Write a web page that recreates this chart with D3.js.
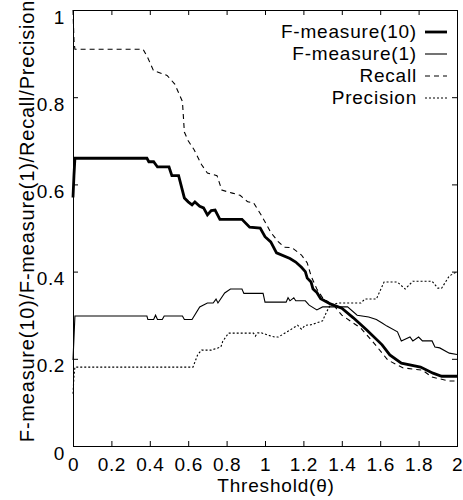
<!DOCTYPE html>
<html>
<head>
<meta charset="utf-8">
<script src="https://cdn.jsdelivr.net/npm/d3@7"></script>
<style>
  html, body { margin: 0; padding: 0; background: #fff; }
  svg text { font-family: "Liberation Sans", Arial, Helvetica, sans-serif; fill: #000; }
</style>
</head>
<body>
<svg id="chart" width="463" height="500"></svg>
<script>
// ---- data ----
const xTicks = [0, 0.2, 0.4, 0.6, 0.8, 1, 1.2, 1.4, 1.6, 1.8, 2];
const yTicks = [0, 0.2, 0.4, 0.6, 0.8, 1];
const xTickLabels = ["0", "0.2", "0.4", "0.6", "0.8", "1", "1.2", "1.4", "1.6", "1.8", "2"];
const yTickLabels = ["0", "0.2", "0.4", "0.6", "0.8", "1"];
const seriesNames = ["F-measure(10)", "F-measure(1)", "Recall", "Precision"];

const fmeasure10 = [
  [0, 0.57], [0.005, 0.62], [0.01, 0.66], [0.385, 0.66], [0.395, 0.652], [0.42, 0.652],
  [0.44, 0.64], [0.50, 0.64], [0.515, 0.62], [0.55, 0.62], [0.58, 0.569], [0.60, 0.56],
  [0.62, 0.553], [0.635, 0.56], [0.66, 0.55], [0.68, 0.546], [0.70, 0.53], [0.72, 0.54],
  [0.74, 0.541], [0.765, 0.52], [0.88, 0.52], [0.92, 0.502], [0.975, 0.50], [1.0, 0.48],
  [1.03, 0.468], [1.06, 0.443], [1.13, 0.43], [1.16, 0.422], [1.19, 0.41], [1.21, 0.40],
  [1.22, 0.385], [1.24, 0.376], [1.25, 0.36], [1.27, 0.352], [1.29, 0.338], [1.31, 0.333],
  [1.34, 0.326], [1.40, 0.316], [1.46, 0.294], [1.53, 0.266], [1.61, 0.232], [1.65, 0.209],
  [1.71, 0.19], [1.81, 0.181], [1.875, 0.167], [1.92, 0.16], [2.0, 0.16]
];
const fmeasure1 = [
  [0, 0.197], [0.01, 0.298], [0.385, 0.298], [0.39, 0.29], [0.42, 0.29], [0.43, 0.30],
  [0.44, 0.29], [0.465, 0.29], [0.475, 0.298], [0.57, 0.298], [0.58, 0.29], [0.62, 0.29],
  [0.66, 0.319], [0.70, 0.328], [0.73, 0.328], [0.745, 0.337], [0.755, 0.328], [0.79, 0.351],
  [0.82, 0.36], [0.88, 0.36], [0.89, 0.35], [0.99, 0.35], [1.0, 0.33], [1.11, 0.33],
  [1.12, 0.34], [1.13, 0.333], [1.15, 0.34], [1.16, 0.333], [1.21, 0.333], [1.23, 0.323],
  [1.27, 0.312], [1.30, 0.319], [1.43, 0.319], [1.48, 0.30], [1.54, 0.296], [1.58, 0.29],
  [1.61, 0.282], [1.635, 0.275], [1.69, 0.262], [1.71, 0.241], [1.755, 0.25], [1.77, 0.241],
  [1.80, 0.25], [1.82, 0.241], [1.87, 0.241], [1.885, 0.227], [1.91, 0.225], [1.96, 0.213],
  [2.0, 0.21]
];
const recall = [
  [0, 1.0], [0.005, 0.93], [0.01, 0.91], [0.365, 0.91], [0.39, 0.89], [0.42, 0.86],
  [0.44, 0.858], [0.49, 0.85], [0.53, 0.83], [0.57, 0.79], [0.58, 0.72], [0.60, 0.70],
  [0.63, 0.68], [0.67, 0.645], [0.70, 0.626], [0.75, 0.62], [0.775, 0.587], [0.83, 0.58],
  [0.87, 0.575], [0.91, 0.56], [0.94, 0.558], [0.98, 0.53], [1.03, 0.49], [1.07, 0.468],
  [1.10, 0.456], [1.14, 0.455], [1.19, 0.438], [1.22, 0.42], [1.24, 0.39], [1.27, 0.36],
  [1.30, 0.34], [1.365, 0.319], [1.40, 0.30], [1.45, 0.285], [1.50, 0.27], [1.56, 0.24],
  [1.64, 0.197], [1.72, 0.179], [1.82, 0.174], [1.87, 0.158], [1.96, 0.149], [2.0, 0.149]
];
const precision = [
  [0, 0.12], [0.005, 0.16], [0.01, 0.181], [0.625, 0.181], [0.65, 0.21], [0.67, 0.22],
  [0.72, 0.22], [0.77, 0.227], [0.78, 0.24], [0.81, 0.259], [0.94, 0.259], [0.95, 0.252],
  [0.96, 0.259], [0.98, 0.26], [1.01, 0.255], [1.05, 0.25], [1.07, 0.25], [1.10, 0.258],
  [1.13, 0.266], [1.17, 0.277], [1.19, 0.268], [1.21, 0.277], [1.24, 0.278], [1.30, 0.287],
  [1.32, 0.307], [1.34, 0.323], [1.38, 0.328], [1.50, 0.328], [1.52, 0.337], [1.58, 0.337],
  [1.62, 0.376], [1.69, 0.376], [1.73, 0.36], [1.77, 0.378], [1.87, 0.378], [1.90, 0.362],
  [1.92, 0.362], [1.96, 0.39], [2.0, 0.40]
];

// ---- layout ----
const plotLeft = 73, plotRight = 457, plotTop = 10, plotBottom = 446;
const fontSize = 19;

const svg = d3.select("#chart");
const x = d3.scaleLinear().domain([0, 2]).range([plotLeft, plotRight]);
const y = d3.scaleLinear().domain([0, 1]).range([plotBottom, plotTop]);

// frame
svg.append("rect")
  .attr("x", plotLeft + 0.5).attr("y", plotTop + 0.5)
  .attr("width", plotRight - plotLeft).attr("height", plotBottom - plotTop)
  .attr("fill", "none").attr("stroke", "#000").attr("stroke-width", 1);

// axes with inward ticks
const gx = svg.append("g").attr("transform", `translate(0,${plotBottom})`)
  .call(d3.axisBottom(x).tickValues(xTicks).tickFormat((d, i) => xTickLabels[i])
    .tickSizeInner(-5).tickSizeOuter(0).tickPadding(0));
const gxTop = svg.append("g").attr("transform", `translate(0,${plotTop})`)
  .call(d3.axisTop(x).tickValues(xTicks).tickFormat("").tickSizeInner(-5).tickSizeOuter(0));
const gy = svg.append("g").attr("transform", `translate(${plotLeft},0)`)
  .call(d3.axisLeft(y).tickValues(yTicks).tickFormat((d, i) => yTickLabels[i])
    .tickSizeInner(-5).tickSizeOuter(0).tickPadding(0));
const gyRight = svg.append("g").attr("transform", `translate(${plotRight},0)`)
  .call(d3.axisRight(y).tickValues(yTicks).tickFormat("").tickSizeInner(-5).tickSizeOuter(0));

svg.selectAll(".domain").remove();
svg.selectAll(".tick line").attr("stroke", "#000");

gx.selectAll(".tick text")
  .attr("y", 25).attr("dy", 0)
  .attr("font-size", fontSize).attr("font-family", null)
  .attr("letter-spacing", "0.6px");
gy.selectAll(".tick text")
  .attr("x", -8).attr("dy", 13)
  .attr("font-size", fontSize).attr("font-family", null)
  .attr("letter-spacing", "0.6px");

// axis titles
svg.append("text")
  .attr("x", 276).attr("y", 492)
  .attr("text-anchor", "middle")
  .attr("font-size", fontSize)
  .attr("letter-spacing", "0.8px")
  .text("Threshold(\u03B8)");
svg.append("text")
  .attr("transform", `translate(34,221) rotate(-90)`)
  .attr("text-anchor", "middle")
  .attr("font-size", 20)
  .attr("letter-spacing", "0.8px")
  .text("F-measure(10)/F-measure(1)/Recall/Precision");

// series
const styles = [
  { data: fmeasure10, width: 2.8, dash: null },
  { data: fmeasure1, width: 1.1, dash: null },
  { data: recall, width: 1.1, dash: "5,4" },
  { data: precision, width: 1.1, dash: "2,2" }
];
const line = d3.line().x(d => x(d[0])).y(d => y(d[1]));

const plot = svg.append("g");
styles.forEach(s => {
  plot.append("path")
    .datum(s.data)
    .attr("d", line)
    .attr("fill", "none")
    .attr("stroke", "#000")
    .attr("stroke-width", s.width)
    .attr("stroke-linejoin", "miter")
    .attr("stroke-dasharray", s.dash);
});

// legend
const legendRows = [32, 54, 76, 98];
const legend = svg.append("g");
seriesNames.forEach((name, i) => {
  const s = styles[i];
  legend.append("text")
    .attr("x", 417).attr("y", legendRows[i] + 6)
    .attr("text-anchor", "end")
    .attr("font-size", fontSize)
    .attr("letter-spacing", "0.8px")
    .text(name);
  legend.append("line")
    .attr("x1", 425).attr("x2", 447)
    .attr("y1", legendRows[i]).attr("y2", legendRows[i])
    .attr("stroke", "#000")
    .attr("stroke-width", s.width)
    .attr("stroke-dasharray", s.dash);
});
</script>
</body>
</html>
